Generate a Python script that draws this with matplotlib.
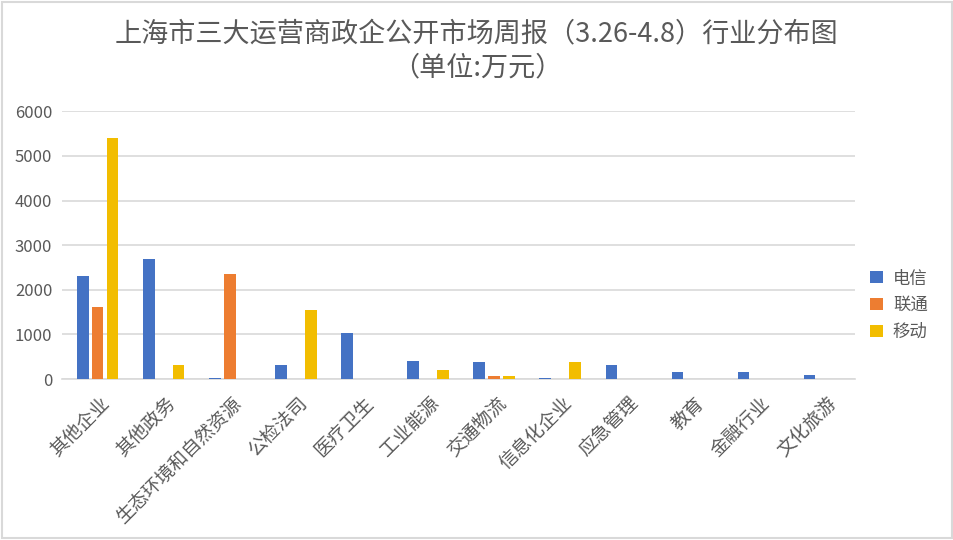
import numpy as np
import matplotlib.pyplot as plt
import matplotlib.transforms as mtransforms
from matplotlib.patches import Rectangle

plt.rcParams['font.family'] = ['Noto Sans CJK SC', 'DejaVu Sans']

categories = ['其他企业', '其他政务', '生态环境和自然资源', '公检法司', '医疗卫生', '工业能源',
              '交通物流', '信息化企业', '应急管理', '教育', '金融行业', '文化旅游']
telecom = [2310, 2690, 35, 320, 1035, 410, 390, 30, 320, 165, 165, 95]
unicom = [1620, 0, 2355, 0, 0, 0, 75, 0, 0, 0, 0, 0]
mobile = [5400, 320, 0, 1550, 0, 210, 70, 390, 0, 0, 0, 0]
series_names = ['电信', '联通', '移动']
colors = ['#4472C4', '#ED7D31', '#F2BD00']

fig = plt.figure(figsize=(9.54, 5.4), dpi=100)
ax = fig.add_axes([0.065, 0.298, 0.831, 0.496])

x = np.arange(len(categories))
w = 0.175
off = 0.225
for i, (vals, name) in enumerate(zip([telecom, unicom, mobile], series_names)):
    ax.bar(x + (i - 1) * off + 0.04, vals, w, color=colors[i], label=name, zorder=3)

ax.set_xlim(-0.5, len(categories) - 0.5)
ax.set_ylim(0, 6000)
ax.set_yticks(range(0, 6001, 1000))
ax.yaxis.grid(True, color='#D9D9D9', linewidth=1.2, zorder=0)
for s in ['top', 'right', 'left']:
    ax.spines[s].set_visible(False)
ax.spines['bottom'].set_color('#D9D9D9')
ax.spines['bottom'].set_linewidth(1.2)
ax.tick_params(axis='both', length=0, colors='#595959', labelsize=12)
ax.tick_params(axis='y', pad=7)
ax.set_xticks(x)
ax.set_xticklabels(categories, rotation=45, ha='right', rotation_mode='anchor',
                   fontsize=13.5, color='#595959')
ax.tick_params(axis='x', pad=10)
shift = mtransforms.ScaledTranslation(4 / 100, 0, fig.dpi_scale_trans)
for lbl in ax.get_xticklabels():
    lbl.set_transform(lbl.get_transform() + shift)

fig.text(0.5, 0.938, '上海市三大运营商政企公开市场周报（3.26-4.8）行业分布图', ha='center',
         va='center', fontsize=19.5, color='#595959')
fig.text(0.5, 0.874, '（单位:万元）', ha='center', va='center', fontsize=19.5, color='#595959')

ax.legend(loc='center left', bbox_to_anchor=(1.0, 0.276), frameon=False, fontsize=12.5,
          handlelength=0.7, handleheight=0.7, labelcolor='#595959', labelspacing=0.5,
          handletextpad=0.6)

fig.patches.append(Rectangle((0.002, 0.003), 0.996, 0.994, transform=fig.transFigure,
                             fill=False, edgecolor='#D9D9D9', linewidth=1.5))

fig.savefig('out.png', dpi=100)
